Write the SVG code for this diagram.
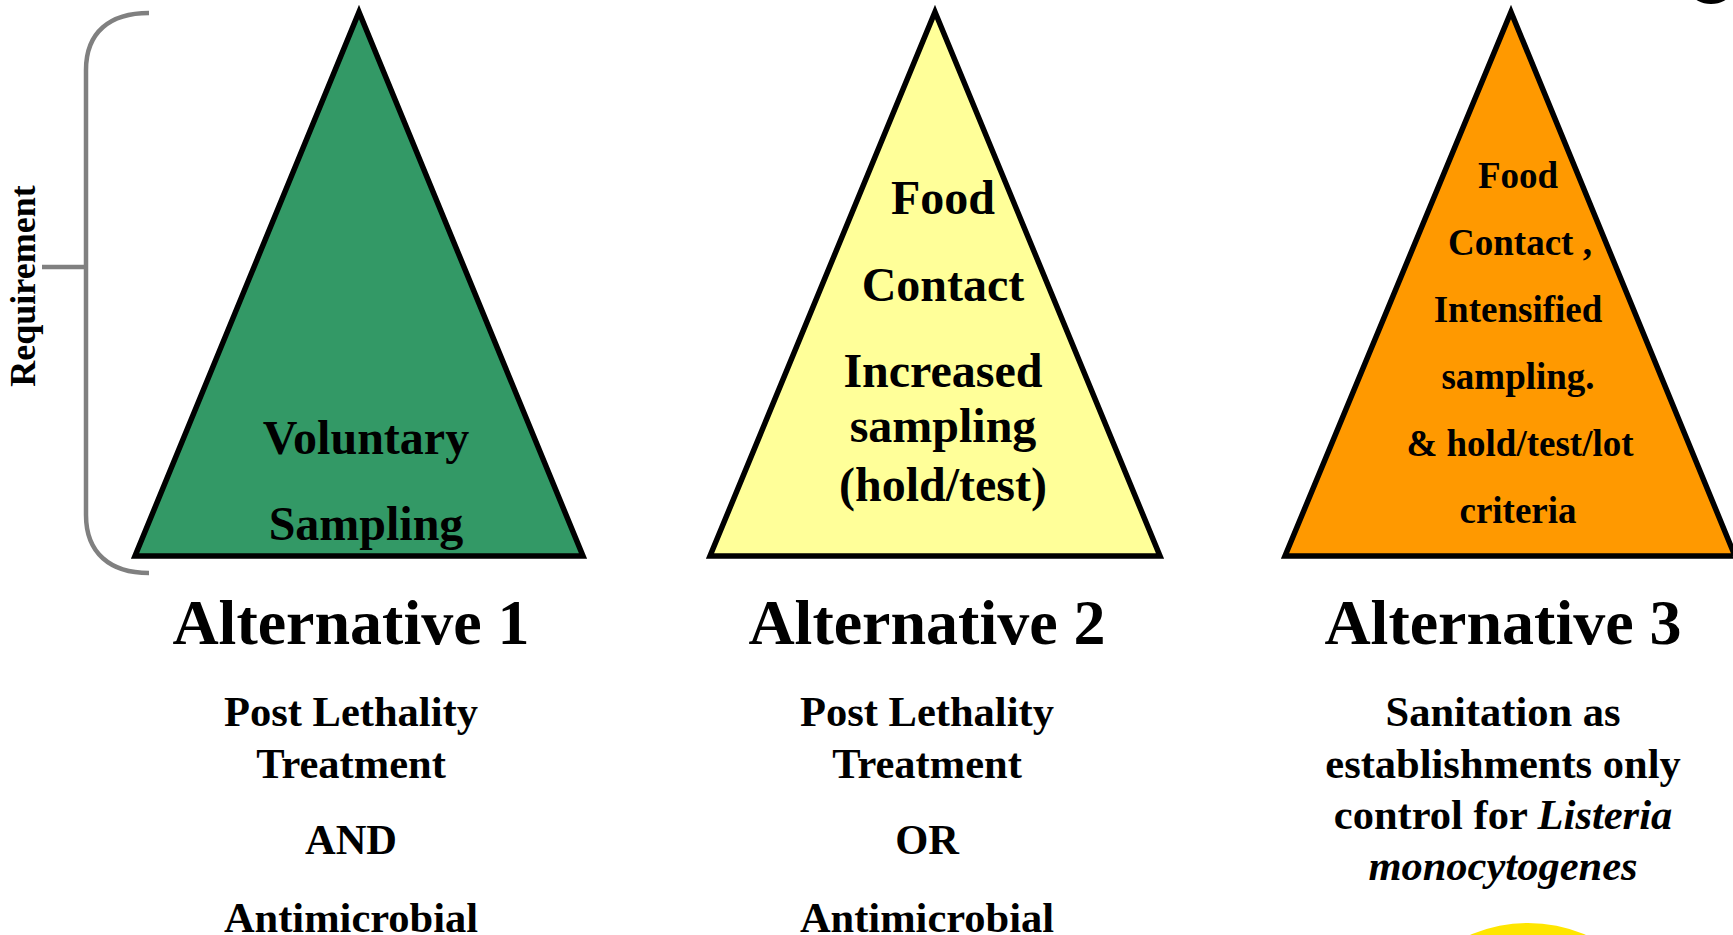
<svg xmlns="http://www.w3.org/2000/svg" width="1733" height="935" viewBox="0 0 1733 935">
<style>
.tri{stroke:#000;stroke-width:5.5;stroke-linejoin:miter}
.t{font-family:"Liberation Serif","Times New Roman",serif;font-weight:bold;fill:#000;text-anchor:middle}
.in{font-size:48px}
.in3{font-size:37px}
.alt{font-size:64px}
.sub{font-size:42.5px}
.it{font-style:italic}
.brace{fill:none;stroke:#808080;stroke-width:4.5}
</style>
<rect width="1733" height="935" fill="#fff"/>
<g id="brace">
<path class="brace" d="M149,13 C110,13 86,32 86,70 V515 C86,553 110,573 149,573 M42,267 H86"/>
<text class="t" font-size="36" transform="translate(35,286) rotate(-90)">Requirement</text>
</g>
<g id="alt1">
<polygon class="tri" fill="#339966" points="359,12 583,556 135,556"/>
<text class="t in" x="366" y="454">Voluntary</text>
<text class="t in" x="366" y="540">Sampling</text>
<text class="t alt" x="351" y="644">Alternative 1</text>
<text class="t sub" x="351" y="726">Post Lethality</text>
<text class="t sub" x="351" y="778">Treatment</text>
<text class="t sub" x="351" y="854">AND</text>
<text class="t sub" x="351" y="932">Antimicrobial</text>
</g>
<g id="alt2">
<polygon class="tri" fill="#FFFF99" points="935,12 1160,556 710,556"/>
<text class="t in" x="943" y="214">Food</text>
<text class="t in" x="943" y="301">Contact</text>
<text class="t in" x="943" y="387">Increased</text>
<text class="t in" x="943" y="442">sampling</text>
<text class="t in" x="943" y="501">(hold/test)</text>
<text class="t alt" x="927" y="644">Alternative 2</text>
<text class="t sub" x="927" y="726">Post Lethality</text>
<text class="t sub" x="927" y="778">Treatment</text>
<text class="t sub" x="927" y="854">OR</text>
<text class="t sub" x="927" y="932">Antimicrobial</text>
</g>
<g id="alt3">
<polygon class="tri" fill="#FF9900" points="1511,12 1735,556 1285,556"/>
<text class="t in3" x="1518" y="188">Food</text>
<text class="t in3" x="1520" y="255">Contact ,</text>
<text class="t in3" x="1518" y="322">Intensified</text>
<text class="t in3" x="1518" y="389">sampling.</text>
<text class="t in3" x="1520" y="456">&amp; hold/test/lot</text>
<text class="t in3" x="1518" y="523">criteria</text>
<text class="t alt" x="1503" y="644">Alternative 3</text>
<text class="t sub" x="1503" y="726">Sanitation as</text>
<text class="t sub" x="1503" y="778">establishments only</text>
<text class="t sub" x="1503" y="829">control for <tspan class="it">Listeria</tspan></text>
<text class="t sub it" x="1503" y="880">monocytogenes</text>
</g>
<g id="connectors"/>
<g id="fragments">
<ellipse cx="1711" cy="-6" rx="18" ry="10" fill="#000"/>
<circle cx="1528" cy="1069" r="146" fill="#FFE600"/>
</g>
</svg>
